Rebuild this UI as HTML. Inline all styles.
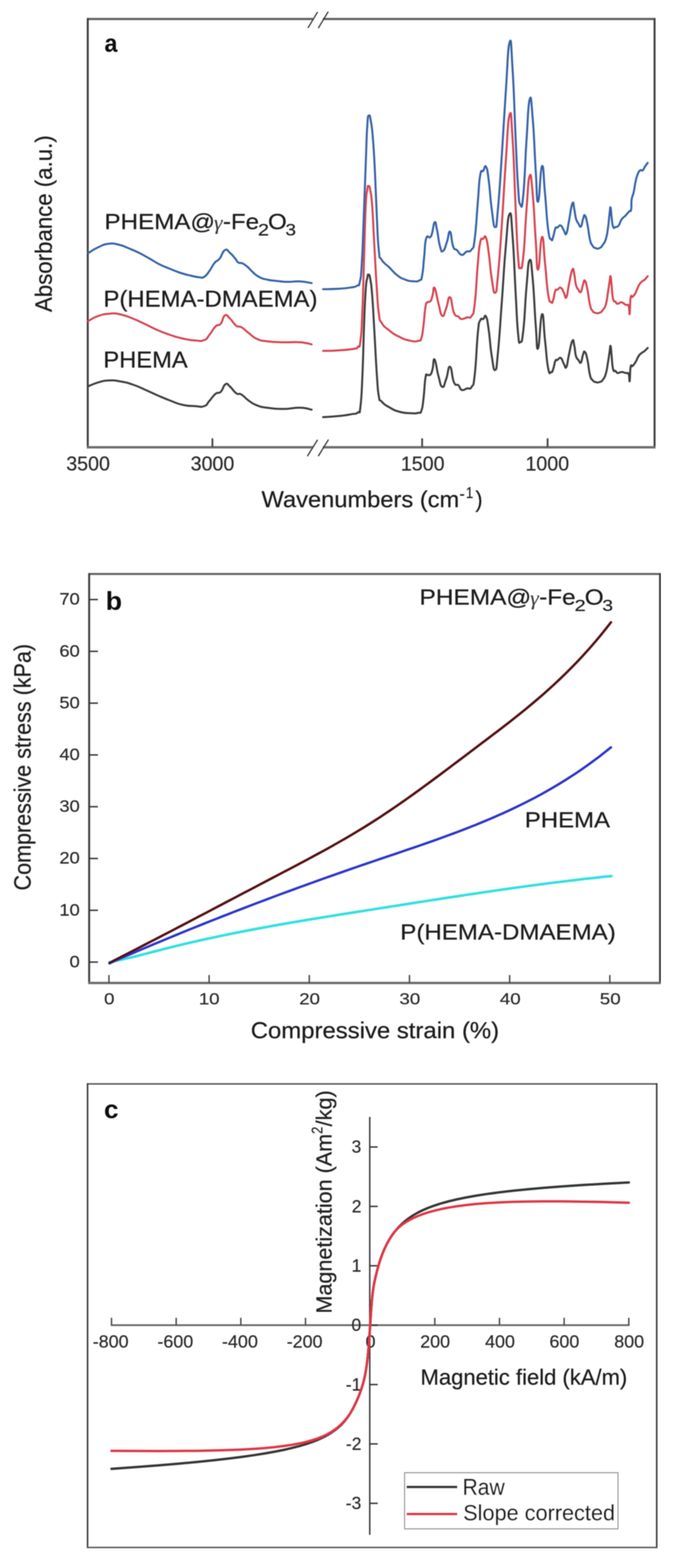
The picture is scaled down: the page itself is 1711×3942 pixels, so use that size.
<!DOCTYPE html>
<html><head><meta charset="utf-8"><title>Figure</title>
<style>
html,body{margin:0;padding:0;background:#fff;}
body{width:1711px;height:3942px;overflow:hidden;}
svg{display:block;}
text{font-family:'Liberation Sans', Arial, sans-serif;}
</style></head><body>
<svg width="1711" height="3942" viewBox="0 0 1711 3942">
<defs><filter id="bl" x="0" y="0" width="1" height="1"><feGaussianBlur stdDeviation="0.8"/></filter></defs>
<rect x="0" y="0" width="1711" height="3942" fill="#fff"/>
<g filter="url(#bl)">
<line x1="218.00" y1="47.80" x2="786.00" y2="47.80" stroke="#5e5e5e" stroke-width="5.5"/>
<line x1="811.00" y1="47.80" x2="1647.00" y2="47.80" stroke="#5e5e5e" stroke-width="5.5"/>
<line x1="220.50" y1="45.50" x2="220.50" y2="1127.00" stroke="#404040" stroke-width="5"/>
<line x1="1644.60" y1="45.50" x2="1644.60" y2="1127.00" stroke="#404040" stroke-width="5"/>
<line x1="218.00" y1="1124.60" x2="786.00" y2="1124.60" stroke="#6c6c6c" stroke-width="6"/>
<line x1="811.00" y1="1124.60" x2="1647.00" y2="1124.60" stroke="#6c6c6c" stroke-width="6"/>
<line x1="773.80" y1="70.30" x2="798.00" y2="30.00" stroke="#333" stroke-width="3"/>
<line x1="799.60" y1="70.80" x2="824.80" y2="29.00" stroke="#333" stroke-width="3"/>
<line x1="772.20" y1="1146.90" x2="798.00" y2="1105.60" stroke="#333" stroke-width="3"/>
<line x1="799.60" y1="1146.90" x2="825.30" y2="1105.00" stroke="#333" stroke-width="3"/>
<line x1="533.70" y1="1124.00" x2="533.70" y2="1102.00" stroke="#444" stroke-width="4.5"/>
<line x1="1060.60" y1="1124.00" x2="1060.60" y2="1102.00" stroke="#444" stroke-width="4.5"/>
<line x1="1375.80" y1="1124.00" x2="1375.80" y2="1102.00" stroke="#444" stroke-width="4.5"/>
<text transform="translate(166.44,1183.31) scale(0.49296,0.49296)" font-size="100" fill="#2a2a2a" stroke="#2a2a2a" stroke-width="1.0">3500</text>
<text transform="translate(479.04,1183.31) scale(0.49296,0.49296)" font-size="100" fill="#2a2a2a" stroke="#2a2a2a" stroke-width="1.0">3000</text>
<text transform="translate(1007.17,1183.31) scale(0.49296,0.49296)" font-size="100" fill="#2a2a2a" stroke="#2a2a2a" stroke-width="1.0">1500</text>
<text transform="translate(1320.17,1183.31) scale(0.49296,0.49296)" font-size="100" fill="#2a2a2a" stroke="#2a2a2a" stroke-width="1.0">1000</text>
<path d="M222.0,971.0 C228.4,968.5 232.7,965.6 246.0,961.7 C259.3,957.8 256.8,957.2 272.0,956.5 C287.2,955.8 286.5,956.2 303.0,959.0 C319.5,961.8 317.5,961.4 334.0,967.0 C350.5,972.6 348.5,972.8 365.0,980.0 C381.5,987.2 379.3,986.8 396.0,994.0 C412.7,1001.2 410.8,1000.7 427.5,1007.0 C444.2,1013.3 441.9,1014.0 458.6,1017.7 C475.3,1021.4 475.5,1020.1 490.0,1021.0 C504.5,1021.9 503.4,1024.5 513.0,1021.0 C522.6,1017.5 518.4,1016.3 526.0,1008.0 C533.6,999.7 534.0,996.1 541.6,990.0 C549.2,983.9 548.0,991.4 554.6,985.0 C561.2,978.6 560.3,969.5 566.5,966.0 C572.7,962.5 570.8,965.9 578.0,972.0 C585.2,978.1 585.9,983.4 593.5,988.7 C601.1,994.0 598.2,986.9 606.5,991.8 C614.8,996.7 614.3,999.8 624.6,1007.0 C634.9,1014.2 632.6,1014.0 645.0,1018.8 C657.4,1023.6 652.9,1022.5 671.0,1025.0 C689.1,1027.5 690.9,1028.0 713.0,1028.0 C735.1,1028.0 735.3,1024.5 754.0,1025.0 C772.7,1025.5 775.3,1028.7 783.0,1030.0" fill="none" stroke="#3e3e3e" stroke-width="5" stroke-linejoin="round" stroke-linecap="round"/>
<path d="M222.0,807.0 C228.4,803.7 231.3,799.7 246.0,794.7 C260.7,789.7 261.8,789.5 277.0,788.4 C292.2,787.3 287.8,787.1 303.0,790.5 C318.2,793.9 317.5,794.5 334.0,801.0 C350.5,807.5 348.5,807.3 365.0,815.0 C381.5,822.7 379.3,822.8 396.0,830.0 C412.7,837.2 410.8,836.4 427.5,842.0 C444.2,847.6 441.9,847.3 458.6,851.0 C475.3,854.7 475.5,854.9 490.0,856.0 C504.5,857.1 503.4,858.7 513.0,855.0 C522.6,851.3 518.4,851.2 526.0,842.0 C533.6,832.8 534.0,828.1 541.6,820.6 C549.2,813.1 548.4,821.4 554.6,814.0 C560.8,806.6 558.8,796.5 565.0,793.0 C571.2,789.5 570.4,794.1 578.0,801.0 C585.6,807.9 585.9,813.2 593.5,819.0 C601.1,824.8 598.2,817.9 606.5,822.7 C614.8,827.5 614.3,829.3 624.6,837.0 C634.9,844.7 632.6,846.1 645.0,851.7 C657.4,857.3 652.9,855.7 671.0,858.0 C689.1,860.3 690.9,859.8 713.0,860.5 C735.1,861.2 735.3,859.1 754.0,860.5 C772.7,861.9 775.3,864.3 783.0,865.7" fill="none" stroke="#d84350" stroke-width="5" stroke-linejoin="round" stroke-linecap="round"/>
<path d="M222.0,636.0 C228.4,632.3 232.7,628.1 246.0,622.0 C259.3,615.9 258.1,614.9 272.0,613.0 C285.9,611.1 284.1,611.9 298.0,615.0 C311.9,618.1 310.1,618.9 324.0,624.5 C337.9,630.1 336.2,629.2 350.0,636.0 C363.8,642.8 361.8,642.3 375.6,650.0 C389.4,657.7 387.8,658.1 401.6,665.0 C415.4,671.9 413.7,670.4 427.5,676.0 C441.3,681.6 439.7,681.5 453.5,686.0 C467.3,690.5 467.0,690.1 479.4,693.0 C491.8,695.9 491.0,696.2 500.0,697.0 C509.0,697.8 506.1,700.1 513.0,696.0 C519.9,691.9 519.1,690.9 526.0,681.6 C532.9,672.3 532.1,669.4 539.0,661.0 C545.9,652.6 545.1,658.6 552.0,650.0 C558.9,641.4 558.1,632.4 565.0,628.7 C571.9,625.0 571.1,630.3 578.0,636.0 C584.9,641.7 585.5,643.6 591.0,650.0 C596.5,656.4 593.9,656.8 598.7,660.0 C603.5,663.2 602.8,659.1 609.0,662.0 C615.2,664.9 615.1,665.1 622.0,671.0 C628.9,676.9 627.4,677.3 635.0,684.0 C642.6,690.7 641.0,690.9 650.6,696.0 C660.2,701.1 658.6,700.2 671.0,703.0 C683.4,705.8 683.1,705.0 697.0,706.5 C710.9,708.0 707.8,708.2 723.0,708.5 C738.2,708.8 738.0,706.6 754.0,707.5 C770.0,708.4 775.3,710.6 783.0,711.7" fill="none" stroke="#3462a8" stroke-width="5" stroke-linejoin="round" stroke-linecap="round"/>
<path d="M811.6,1048.7 C821.7,1048.0 830.6,1047.9 849.5,1046.0 C868.4,1044.1 869.3,1043.8 882.5,1041.4 C895.7,1039.0 892.8,1042.1 899.0,1037.0 C905.2,1031.9 902.5,1047.4 905.6,1022.3 C908.7,997.2 908.1,999.3 910.6,943.0 C913.1,886.7 912.7,868.2 914.9,811.0 C917.1,753.8 916.7,758.4 918.8,728.5 C920.9,698.6 920.9,708.9 922.8,698.8 C924.7,688.7 924.0,689.7 926.0,690.6 C928.0,691.5 927.9,687.5 930.4,702.0 C932.9,716.5 932.7,711.5 935.3,745.0 C937.9,778.5 937.2,774.8 940.3,827.6 C943.4,880.4 943.8,898.1 946.9,943.0 C950.0,987.9 948.7,978.3 951.8,995.9 C954.9,1013.5 951.4,1001.5 958.4,1009.0 C965.4,1016.5 965.9,1016.9 978.2,1024.0 C990.5,1031.1 990.5,1031.6 1004.6,1035.5 C1018.7,1039.4 1018.7,1038.1 1031.0,1038.8 C1043.3,1039.5 1043.3,1039.8 1050.8,1038.0 C1058.3,1036.2 1055.5,1041.5 1059.0,1032.0 C1062.5,1022.5 1061.3,1024.4 1064.0,1002.5 C1066.7,980.6 1066.3,965.6 1069.0,949.7 C1071.7,933.8 1070.5,945.2 1074.0,943.0 C1077.5,940.8 1078.5,945.8 1082.0,941.4 C1085.5,937.0 1084.3,936.6 1087.0,926.6 C1089.7,916.6 1088.1,899.0 1092.0,904.0 C1095.9,909.0 1096.5,927.1 1101.6,945.4 C1106.7,963.7 1106.1,970.6 1111.3,972.6 C1116.5,974.6 1115.8,966.5 1121.0,953.0 C1126.2,939.5 1125.5,919.9 1130.7,922.0 C1135.9,924.1 1134.8,948.5 1140.5,961.0 C1146.2,973.5 1146.8,963.6 1152.0,968.8 C1157.2,974.0 1154.2,978.3 1159.9,980.4 C1165.6,982.5 1166.7,978.6 1173.4,976.5 C1180.1,974.4 1179.8,981.9 1185.0,972.6 C1190.2,963.3 1188.6,977.8 1192.8,941.6 C1197.0,905.4 1197.0,873.0 1200.6,836.8 C1204.2,800.6 1202.8,815.0 1206.4,805.7 C1210.0,796.4 1210.3,804.5 1214.2,801.9 C1218.1,799.3 1217.6,788.8 1221.2,796.0 C1224.8,803.2 1224.0,802.6 1227.8,829.0 C1231.6,855.4 1231.2,868.1 1235.5,895.0 C1239.8,921.9 1239.9,932.1 1244.0,930.0 C1248.1,927.9 1246.5,932.8 1251.0,887.2 C1255.5,841.6 1255.6,829.4 1260.8,759.0 C1266.0,688.6 1265.3,682.2 1270.5,623.3 C1275.7,564.4 1275.5,545.3 1280.2,538.0 C1284.9,530.7 1283.9,542.2 1288.0,596.0 C1292.1,649.8 1292.1,675.6 1295.7,739.8 C1299.3,804.0 1298.4,804.7 1301.5,836.8 C1304.6,868.9 1303.7,862.1 1307.3,860.0 C1310.9,857.9 1310.8,866.2 1315.0,829.0 C1319.2,791.8 1318.7,767.0 1322.9,720.4 C1327.1,673.8 1326.5,659.6 1330.6,654.4 C1334.7,649.2 1334.3,657.5 1338.4,701.0 C1342.5,744.5 1342.4,770.8 1346.0,817.4 C1349.6,864.0 1347.8,882.9 1352.0,875.6 C1356.2,868.3 1357.1,795.4 1361.7,790.2 C1366.3,785.0 1365.3,819.8 1369.4,856.0 C1373.5,892.2 1373.0,904.9 1377.2,926.0 C1381.4,947.1 1381.6,934.8 1385.0,935.3 C1388.4,935.8 1387.3,935.1 1390.0,927.7 C1392.7,920.3 1392.5,913.6 1395.2,907.5 C1397.9,901.4 1396.6,907.0 1400.3,905.0 C1404.0,903.0 1404.6,897.3 1409.0,900.0 C1413.4,902.7 1413.0,909.0 1416.7,915.0 C1420.4,921.0 1419.6,928.6 1423.0,922.6 C1426.4,916.6 1425.3,909.9 1429.3,892.4 C1433.3,874.9 1434.3,863.1 1438.0,857.0 C1441.7,850.9 1440.6,859.6 1443.0,869.7 C1445.4,879.8 1444.3,885.5 1447.0,894.9 C1449.7,904.3 1449.8,900.6 1453.2,905.0 C1456.6,909.4 1456.6,914.7 1459.6,911.3 C1462.6,907.9 1461.9,899.5 1464.6,892.4 C1467.3,885.3 1466.6,881.4 1469.6,884.8 C1472.6,888.2 1472.6,889.5 1476.0,905.0 C1479.4,920.5 1478.9,929.4 1482.3,942.8 C1485.7,956.2 1484.9,950.7 1488.6,955.4 C1492.3,960.1 1491.3,959.1 1496.0,960.5 C1500.7,961.9 1501.1,962.2 1506.2,960.5 C1511.3,958.8 1510.6,960.3 1515.0,954.2 C1519.4,948.1 1519.2,949.6 1522.6,937.8 C1526.0,926.0 1525.3,924.1 1527.7,910.0 C1530.1,895.9 1529.8,895.5 1531.5,884.8 C1533.2,874.1 1532.7,867.7 1534.0,869.7 C1535.3,871.7 1534.8,876.9 1536.5,892.4 C1538.2,907.9 1537.6,917.0 1540.3,927.7 C1543.0,938.4 1543.6,930.0 1546.6,932.7 C1549.6,935.4 1547.6,937.1 1551.6,937.8 C1555.6,938.5 1556.3,935.3 1561.7,935.3 C1567.1,935.3 1567.1,936.5 1571.8,937.8 C1576.5,939.1 1576.7,934.9 1579.4,940.3 C1582.1,945.7 1580.7,962.7 1582.0,958.0 C1583.3,953.3 1582.4,932.7 1584.4,922.6 C1586.4,912.5 1586.1,923.4 1589.5,920.0 C1592.9,916.6 1593.0,916.7 1597.0,910.0 C1601.0,903.3 1600.5,901.1 1604.6,895.0 C1608.7,888.9 1608.2,890.7 1612.2,887.3 C1616.2,883.9 1615.7,885.7 1619.7,882.3 C1623.7,878.9 1625.3,876.7 1627.3,874.7" fill="none" stroke="#3e3e3e" stroke-width="5" stroke-linejoin="round" stroke-linecap="round"/>
<path d="M811.6,882.0 C821.7,881.7 828.9,882.3 849.5,881.0 C870.1,879.7 875.8,879.4 889.0,877.0 C902.2,874.6 894.6,877.3 899.0,872.0 C903.4,866.7 902.5,882.1 905.6,857.0 C908.7,831.9 908.1,835.9 910.6,778.0 C913.1,720.1 912.7,708.8 914.9,640.0 C917.1,571.2 916.8,563.2 918.8,520.0 C920.8,476.8 920.6,491.9 922.5,478.0 C924.4,464.1 923.9,467.5 926.0,467.8 C928.1,468.1 927.9,464.9 930.4,479.0 C932.9,493.1 932.7,484.9 935.3,520.6 C937.9,556.3 937.2,557.6 940.3,613.0 C943.4,668.4 943.8,681.8 946.9,728.5 C950.0,775.2 948.7,766.0 951.8,788.0 C954.9,810.0 951.4,799.6 958.4,811.0 C965.4,822.4 965.9,821.2 978.2,830.9 C990.5,840.6 990.5,840.5 1004.6,847.4 C1018.7,854.3 1018.7,854.0 1031.0,856.6 C1043.3,859.2 1043.3,859.0 1050.8,857.0 C1058.3,855.0 1055.5,859.5 1059.0,849.0 C1062.5,838.5 1061.3,838.4 1064.0,817.7 C1066.7,797.0 1066.3,786.9 1069.0,771.5 C1071.7,756.1 1070.5,764.0 1074.0,760.0 C1077.5,756.0 1078.5,761.5 1082.0,756.6 C1085.5,751.7 1084.3,750.4 1087.0,741.7 C1089.7,733.0 1088.1,718.3 1092.0,724.0 C1095.9,729.7 1096.5,744.3 1101.6,763.0 C1106.7,781.7 1106.1,790.9 1111.3,794.0 C1116.5,797.1 1115.8,787.1 1121.0,774.7 C1126.2,762.3 1125.5,744.4 1130.7,747.5 C1135.9,750.6 1134.8,773.4 1140.5,786.3 C1146.2,799.2 1146.8,791.8 1152.0,796.0 C1157.2,800.2 1154.2,801.5 1159.9,802.0 C1165.6,802.5 1166.7,800.1 1173.4,798.0 C1180.1,795.9 1179.8,803.3 1185.0,794.0 C1190.2,784.7 1188.6,798.2 1192.8,763.0 C1197.0,727.8 1197.0,702.9 1200.6,662.0 C1204.2,621.1 1202.8,626.3 1206.4,609.8 C1210.0,593.3 1210.3,603.1 1214.2,600.0 C1218.1,596.9 1217.6,588.7 1221.2,598.0 C1224.8,607.3 1224.0,607.5 1227.8,635.0 C1231.6,662.5 1231.2,674.1 1235.5,701.0 C1239.8,727.9 1239.9,738.0 1244.0,735.9 C1248.1,733.8 1246.5,738.6 1251.0,693.0 C1255.5,647.4 1255.6,640.5 1260.8,565.0 C1266.0,489.5 1265.3,483.4 1270.5,410.0 C1275.7,336.6 1275.5,305.1 1280.2,289.6 C1284.9,274.1 1283.9,288.6 1288.0,351.7 C1292.1,414.8 1292.1,448.7 1295.7,526.3 C1299.3,603.9 1298.4,603.4 1301.5,642.7 C1304.6,682.0 1303.7,673.8 1307.3,673.8 C1310.9,673.8 1310.8,682.0 1315.0,642.7 C1319.2,603.4 1318.7,579.6 1322.9,526.3 C1327.1,473.0 1326.5,453.2 1330.6,442.9 C1334.7,432.6 1334.3,444.5 1338.4,487.5 C1342.5,530.5 1342.4,553.3 1346.0,604.0 C1349.6,654.7 1347.8,679.8 1352.0,677.7 C1356.2,675.6 1357.1,600.2 1361.7,596.0 C1366.3,591.8 1365.3,623.7 1369.4,662.0 C1373.5,700.3 1373.0,713.7 1377.2,739.8 C1381.4,765.9 1381.6,756.3 1385.0,760.0 C1388.4,763.7 1387.3,761.3 1390.0,753.6 C1392.7,745.9 1392.5,737.7 1395.2,731.0 C1397.9,724.3 1396.6,730.4 1400.3,728.4 C1404.0,726.4 1404.6,721.4 1409.0,723.4 C1413.4,725.4 1413.0,729.6 1416.7,736.0 C1420.4,742.4 1419.6,752.7 1423.0,747.3 C1426.4,741.9 1425.3,734.3 1429.3,715.8 C1433.3,697.3 1434.3,684.7 1438.0,678.0 C1441.7,671.3 1440.6,680.5 1443.0,690.6 C1445.4,700.7 1444.3,705.7 1447.0,715.8 C1449.7,725.9 1449.8,723.7 1453.2,728.4 C1456.6,733.1 1456.6,736.9 1459.6,733.5 C1462.6,730.1 1461.9,723.2 1464.6,715.8 C1467.3,708.4 1466.6,702.3 1469.6,705.7 C1472.6,709.1 1472.6,712.3 1476.0,728.4 C1479.4,744.5 1478.9,752.1 1482.3,766.2 C1485.7,780.3 1484.9,776.0 1488.6,781.4 C1492.3,786.8 1491.3,785.1 1496.0,786.4 C1500.7,787.7 1501.1,788.4 1506.2,786.4 C1511.3,784.4 1510.6,785.0 1515.0,778.9 C1519.4,772.8 1519.2,775.8 1522.6,763.7 C1526.0,751.6 1525.3,748.3 1527.7,733.5 C1530.1,718.7 1529.8,718.7 1531.5,708.2 C1533.2,697.7 1532.7,692.3 1534.0,694.3 C1535.3,696.3 1534.8,700.7 1536.5,715.8 C1538.2,730.9 1537.6,739.7 1540.3,751.1 C1543.0,762.5 1543.6,755.3 1546.6,758.7 C1549.6,762.1 1547.6,763.4 1551.6,763.7 C1555.6,764.0 1556.3,759.3 1561.7,760.0 C1567.1,760.7 1567.1,763.9 1571.8,766.2 C1576.5,768.5 1576.7,762.7 1579.4,768.8 C1582.1,774.9 1580.7,794.4 1582.0,789.0 C1583.3,783.6 1582.4,760.1 1584.4,748.6 C1586.4,737.1 1586.1,749.4 1589.5,746.0 C1592.9,742.6 1593.0,743.4 1597.0,736.0 C1601.0,728.6 1600.5,725.7 1604.6,718.3 C1608.7,710.9 1608.2,712.2 1612.2,708.2 C1616.2,704.2 1615.7,706.9 1619.7,703.2 C1623.7,699.5 1625.3,696.7 1627.3,694.3" fill="none" stroke="#d84350" stroke-width="5" stroke-linejoin="round" stroke-linecap="round"/>
<path d="M811.6,727.0 C821.7,726.7 830.6,727.2 849.5,726.0 C868.4,724.8 869.7,724.7 882.5,722.6 C895.3,720.5 891.7,721.7 897.4,718.0 C903.1,714.3 900.9,723.5 904.0,708.7 C907.1,693.9 906.4,705.6 909.0,662.5 C911.6,619.4 911.3,613.0 913.9,547.0 C916.5,481.0 916.4,476.6 918.8,415.0 C921.2,353.4 920.6,349.1 922.8,316.0 C925.0,282.9 924.5,293.7 927.0,291.0 C929.5,288.3 929.3,290.5 932.0,306.0 C934.7,321.5 934.3,315.5 937.0,349.0 C939.7,382.5 939.4,378.7 942.0,431.5 C944.6,484.3 944.3,494.2 946.9,547.0 C949.5,599.8 948.7,601.3 951.8,629.5 C954.9,657.7 951.4,641.2 958.4,652.6 C965.4,664.0 967.6,661.9 978.2,672.4 C988.8,682.9 987.4,683.9 998.0,692.0 C1008.6,700.1 1007.2,698.8 1017.8,702.8 C1028.4,706.8 1027.9,706.5 1037.6,707.0 C1047.3,707.5 1047.8,708.8 1054.0,704.8 C1060.2,700.8 1057.6,707.7 1060.7,692.0 C1063.8,676.3 1063.1,670.5 1065.7,646.0 C1068.3,621.5 1066.7,613.2 1070.6,600.0 C1074.5,586.8 1076.5,600.1 1080.5,596.5 C1084.5,592.9 1082.4,596.6 1085.5,586.6 C1088.6,576.6 1088.7,561.6 1092.0,559.0 C1095.3,556.4 1094.2,560.7 1097.8,576.8 C1101.4,592.9 1101.4,605.0 1105.5,619.5 C1109.6,634.0 1108.6,634.1 1113.3,631.0 C1118.0,627.9 1118.4,620.7 1123.0,607.8 C1127.6,594.9 1126.6,579.5 1130.7,582.6 C1134.8,585.7 1133.8,607.1 1138.5,619.5 C1143.2,631.9 1142.5,623.3 1148.2,629.0 C1153.9,634.7 1153.7,639.7 1159.9,640.8 C1166.1,641.9 1164.8,636.6 1171.5,633.0 C1178.2,629.4 1179.3,636.0 1185.0,627.2 C1190.7,618.4 1188.6,632.1 1192.8,600.0 C1197.0,567.9 1197.0,549.4 1200.6,507.0 C1204.2,464.6 1202.8,461.7 1206.4,441.0 C1210.0,420.3 1210.3,435.0 1214.2,429.3 C1218.1,423.6 1217.6,413.4 1221.2,419.6 C1224.8,425.8 1224.0,424.1 1227.8,452.6 C1231.6,481.1 1231.2,494.7 1235.5,526.3 C1239.8,557.9 1239.9,571.0 1244.0,571.0 C1248.1,571.0 1246.5,574.4 1251.0,526.3 C1255.5,478.2 1255.6,468.2 1260.8,390.5 C1266.0,312.8 1265.3,310.6 1270.5,235.0 C1275.7,159.4 1275.5,122.5 1280.2,107.0 C1284.9,91.5 1283.9,111.7 1288.0,177.0 C1292.1,242.3 1292.1,274.1 1295.7,351.7 C1299.3,429.3 1298.4,424.5 1301.5,468.0 C1304.6,511.5 1303.7,509.5 1307.3,514.7 C1310.9,519.9 1310.8,531.0 1315.0,487.5 C1319.2,444.0 1318.7,414.8 1322.9,351.7 C1327.1,288.6 1326.5,265.3 1330.6,250.8 C1334.7,236.3 1334.3,249.7 1338.4,297.3 C1342.5,344.9 1342.4,373.4 1346.0,429.3 C1349.6,485.2 1347.8,510.1 1352.0,507.0 C1356.2,503.9 1357.1,422.8 1361.7,417.6 C1366.3,412.4 1365.3,445.0 1369.4,487.5 C1373.5,530.0 1373.0,546.2 1377.2,576.8 C1381.4,607.4 1381.6,597.5 1385.0,602.3 C1388.4,607.1 1387.3,602.1 1390.0,594.7 C1392.7,587.3 1392.5,580.6 1395.2,574.5 C1397.9,568.4 1396.6,574.0 1400.3,572.0 C1404.0,570.0 1404.6,565.0 1409.0,567.0 C1413.4,569.0 1413.0,574.3 1416.7,579.6 C1420.4,584.9 1419.6,593.1 1423.0,587.0 C1426.4,580.9 1425.3,577.0 1429.3,556.9 C1433.3,536.8 1434.3,519.6 1438.0,511.5 C1441.7,503.4 1440.6,516.5 1443.0,526.6 C1445.4,536.7 1444.3,539.9 1447.0,549.3 C1449.7,558.7 1449.8,556.6 1453.2,562.0 C1456.6,567.4 1456.6,572.2 1459.6,569.5 C1462.6,566.8 1461.9,559.2 1464.6,551.8 C1467.3,544.4 1466.6,538.3 1469.6,541.7 C1472.6,545.1 1472.6,548.2 1476.0,564.4 C1479.4,580.6 1478.9,588.2 1482.3,602.3 C1485.7,616.4 1484.9,611.7 1488.6,617.4 C1492.3,623.1 1491.3,622.0 1496.0,623.7 C1500.7,625.4 1501.1,626.0 1506.2,623.7 C1511.3,621.4 1510.6,621.3 1515.0,614.9 C1519.4,608.5 1519.2,611.1 1522.6,599.7 C1526.0,588.3 1525.3,588.8 1527.7,572.0 C1530.1,555.2 1529.8,550.2 1531.5,536.7 C1533.2,523.2 1532.7,519.5 1534.0,521.5 C1535.3,523.5 1534.8,531.4 1536.5,544.2 C1538.2,557.0 1537.6,562.4 1540.3,569.5 C1543.0,576.6 1542.9,571.4 1546.6,570.7 C1550.3,570.0 1550.2,572.0 1554.2,567.0 C1558.2,562.0 1557.0,558.5 1561.7,551.8 C1566.4,545.1 1566.8,547.1 1571.8,541.7 C1576.8,536.3 1576.9,535.6 1580.6,531.6 C1584.3,527.6 1584.0,534.7 1585.7,526.6 C1587.4,518.5 1585.3,512.8 1587.0,501.4 C1588.7,490.0 1589.3,495.8 1592.0,483.7 C1594.7,471.6 1594.3,468.1 1597.0,456.0 C1599.7,443.9 1599.0,445.7 1602.0,438.3 C1605.0,430.9 1605.0,430.9 1608.4,428.2 C1611.8,425.5 1611.3,430.9 1614.7,428.2 C1618.1,425.5 1617.6,423.0 1621.0,418.0 C1624.4,413.0 1625.6,411.6 1627.3,409.3" fill="none" stroke="#3462a8" stroke-width="5" stroke-linejoin="round" stroke-linecap="round"/>
<text transform="translate(262.54,576.30) scale(0.60772,0.56400)" font-size="100" fill="#1e1e1e" stroke="#1e1e1e" stroke-width="1.0">PHEMA@</text>
<text transform="translate(537.61,577.00) scale(0.54430,0.53580)" font-size="100" fill="#3a3a3a" stroke="#3a3a3a" stroke-width="0.3" font-style="italic" style="font-family:'Liberation Serif', serif">γ</text>
<text transform="translate(560.18,576.30) scale(0.60355,0.56400)" font-size="100" fill="#1e1e1e" stroke="#1e1e1e" stroke-width="1.0">-Fe</text>
<text transform="translate(648.09,592.40) scale(0.50110,0.42018)" font-size="100" fill="#1e1e1e" stroke="#1e1e1e" stroke-width="1.0">2</text>
<text transform="translate(673.26,576.30) scale(0.60876,0.56400)" font-size="100" fill="#1e1e1e" stroke="#1e1e1e" stroke-width="1.0">O</text>
<text transform="translate(717.08,592.40) scale(0.48000,0.42018)" font-size="100" fill="#1e1e1e" stroke="#1e1e1e" stroke-width="1.0">3</text>
<text transform="translate(259.99,771.00) scale(0.60136,0.56500)" font-size="100" fill="#1e1e1e" stroke="#1e1e1e" stroke-width="1.0">P(HEMA-DMAEMA)</text>
<text transform="translate(259.74,923.70) scale(0.59540,0.57700)" font-size="100" fill="#1e1e1e" stroke="#1e1e1e" stroke-width="1.0">PHEMA</text>
<text transform="translate(262.44,130.00) scale(0.58505,0.63000)" font-size="100" font-weight="bold" fill="#111" stroke="#111" stroke-width="0">a</text>
<text transform="translate(657.10,1275.00) scale(0.59457,0.57200)" font-size="100" fill="#1e1e1e" stroke="#1e1e1e" stroke-width="1.0">Wavenumbers (cm</text>
<text transform="translate(1154.16,1255.00) scale(0.40816,0.40000)" font-size="100" fill="#1e1e1e" stroke="#1e1e1e" stroke-width="1.0">-</text>
<text transform="translate(1170.48,1252.00) scale(0.33563,0.39000)" font-size="100" fill="#1e1e1e" stroke="#1e1e1e" stroke-width="1.0">1</text>
<text transform="translate(1194.43,1275.00) scale(0.53962,0.57200)" font-size="100" fill="#1e1e1e" stroke="#1e1e1e" stroke-width="1.0">)</text>
<text transform="translate(129.60,784.40) rotate(-90) scale(0.55904,0.60000)" font-size="100" fill="#1e1e1e" stroke="#1e1e1e" stroke-width="1.0">Absorbance (a.u.)</text>
<line x1="222.00" y1="1443.00" x2="1660.30" y2="1443.00" stroke="#5e5e5e" stroke-width="5"/>
<line x1="224.00" y1="1441.00" x2="224.00" y2="2473.20" stroke="#404040" stroke-width="5"/>
<line x1="1658.30" y1="1441.00" x2="1658.30" y2="2473.20" stroke="#404040" stroke-width="5"/>
<line x1="222.00" y1="2471.20" x2="1660.30" y2="2471.20" stroke="#6c6c6c" stroke-width="6"/>
<line x1="224.00" y1="2418.70" x2="246.00" y2="2418.70" stroke="#333" stroke-width="3.5"/>
<text transform="translate(174.78,2431.77) scale(0.46000,0.42958)" font-size="100" fill="#2a2a2a" stroke="#2a2a2a" stroke-width="1.0">0</text>
<line x1="224.00" y1="2288.50" x2="246.00" y2="2288.50" stroke="#333" stroke-width="3.5"/>
<text transform="translate(149.25,2301.57) scale(0.46000,0.42958)" font-size="100" fill="#2a2a2a" stroke="#2a2a2a" stroke-width="1.0">10</text>
<line x1="224.00" y1="2158.30" x2="246.00" y2="2158.30" stroke="#333" stroke-width="3.5"/>
<text transform="translate(149.25,2171.37) scale(0.46000,0.42958)" font-size="100" fill="#2a2a2a" stroke="#2a2a2a" stroke-width="1.0">20</text>
<line x1="224.00" y1="2028.10" x2="246.00" y2="2028.10" stroke="#333" stroke-width="3.5"/>
<text transform="translate(149.25,2041.17) scale(0.46000,0.42958)" font-size="100" fill="#2a2a2a" stroke="#2a2a2a" stroke-width="1.0">30</text>
<line x1="224.00" y1="1897.90" x2="246.00" y2="1897.90" stroke="#333" stroke-width="3.5"/>
<text transform="translate(149.25,1910.97) scale(0.46000,0.42958)" font-size="100" fill="#2a2a2a" stroke="#2a2a2a" stroke-width="1.0">40</text>
<line x1="224.00" y1="1767.70" x2="246.00" y2="1767.70" stroke="#333" stroke-width="3.5"/>
<text transform="translate(149.25,1780.77) scale(0.46000,0.42958)" font-size="100" fill="#2a2a2a" stroke="#2a2a2a" stroke-width="1.0">50</text>
<line x1="224.00" y1="1637.50" x2="246.00" y2="1637.50" stroke="#333" stroke-width="3.5"/>
<text transform="translate(149.25,1650.57) scale(0.46000,0.42958)" font-size="100" fill="#2a2a2a" stroke="#2a2a2a" stroke-width="1.0">60</text>
<line x1="224.00" y1="1507.30" x2="246.00" y2="1507.30" stroke="#333" stroke-width="3.5"/>
<text transform="translate(149.25,1520.37) scale(0.46000,0.42958)" font-size="100" fill="#2a2a2a" stroke="#2a2a2a" stroke-width="1.0">70</text>
<line x1="273.70" y1="2471.20" x2="273.70" y2="2451.20" stroke="#444" stroke-width="3.5"/>
<text transform="translate(261.54,2525.28) scale(0.47000,0.41549)" font-size="100" fill="#2a2a2a" stroke="#2a2a2a" stroke-width="1.0">0</text>
<line x1="525.40" y1="2471.20" x2="525.40" y2="2451.20" stroke="#444" stroke-width="3.5"/>
<text transform="translate(499.38,2525.28) scale(0.47000,0.41549)" font-size="100" fill="#2a2a2a" stroke="#2a2a2a" stroke-width="1.0">10</text>
<line x1="777.10" y1="2471.20" x2="777.10" y2="2451.20" stroke="#444" stroke-width="3.5"/>
<text transform="translate(751.66,2525.28) scale(0.47000,0.41549)" font-size="100" fill="#2a2a2a" stroke="#2a2a2a" stroke-width="1.0">20</text>
<line x1="1028.80" y1="2471.20" x2="1028.80" y2="2451.20" stroke="#444" stroke-width="3.5"/>
<text transform="translate(1003.60,2525.28) scale(0.47000,0.41549)" font-size="100" fill="#2a2a2a" stroke="#2a2a2a" stroke-width="1.0">30</text>
<line x1="1280.50" y1="2471.20" x2="1280.50" y2="2451.20" stroke="#444" stroke-width="3.5"/>
<text transform="translate(1255.77,2525.28) scale(0.47000,0.41549)" font-size="100" fill="#2a2a2a" stroke="#2a2a2a" stroke-width="1.0">40</text>
<line x1="1532.20" y1="2471.20" x2="1532.20" y2="2451.20" stroke="#444" stroke-width="3.5"/>
<text transform="translate(1507.00,2525.28) scale(0.47000,0.41549)" font-size="100" fill="#2a2a2a" stroke="#2a2a2a" stroke-width="1.0">50</text>
<path d="M275.0,2418.9 C275.0,2418.9 289.2,2416.0 289.2,2416.0 C289.2,2416.0 303.3,2412.9 303.3,2412.9 C303.3,2412.9 317.5,2409.7 317.5,2409.7 C317.5,2409.7 331.7,2406.4 331.7,2406.4 C331.7,2406.4 345.8,2403.0 345.8,2403.0 C345.8,2403.0 360.0,2399.4 360.0,2399.4 C360.0,2399.4 374.2,2395.7 374.2,2395.7 C374.2,2395.7 388.3,2392.0 388.3,2392.0 C388.3,2392.0 402.5,2388.3 402.5,2388.3 C402.5,2388.3 416.7,2384.7 416.7,2384.7 C416.7,2384.7 430.9,2381.1 430.9,2381.1 C430.9,2381.1 445.0,2377.6 445.0,2377.6 C445.0,2377.6 459.2,2374.2 459.2,2374.2 C459.2,2374.2 473.4,2370.8 473.4,2370.8 C473.4,2370.8 487.5,2367.6 487.5,2367.6 C487.5,2367.6 501.7,2364.3 501.7,2364.3 C501.7,2364.3 515.9,2361.2 515.9,2361.2 C515.9,2361.2 530.0,2358.1 530.0,2358.1 C530.0,2358.1 544.2,2355.1 544.2,2355.1 C544.2,2355.1 558.4,2352.1 558.4,2352.1 C558.4,2352.1 572.5,2349.2 572.5,2349.2 C572.5,2349.2 586.7,2346.3 586.7,2346.3 C586.7,2346.3 600.9,2343.5 600.9,2343.5 C600.9,2343.5 615.0,2340.7 615.0,2340.7 C615.0,2340.7 629.2,2338.0 629.2,2338.0 C629.2,2338.0 643.4,2335.3 643.4,2335.3 C643.4,2335.3 657.6,2332.7 657.6,2332.7 C657.6,2332.7 671.7,2330.1 671.7,2330.1 C671.7,2330.1 685.9,2327.5 685.9,2327.5 C685.9,2327.5 700.1,2325.0 700.1,2325.0 C700.1,2325.0 714.2,2322.5 714.2,2322.5 C714.2,2322.5 728.4,2320.0 728.4,2320.0 C728.4,2320.0 742.6,2317.6 742.6,2317.6 C742.6,2317.6 756.7,2315.2 756.7,2315.2 C756.7,2315.2 770.9,2312.8 770.9,2312.8 C770.9,2312.8 785.1,2310.5 785.1,2310.5 C785.1,2310.5 799.2,2308.2 799.2,2308.2 C799.2,2308.2 813.4,2305.9 813.4,2305.9 C813.4,2305.9 827.6,2303.6 827.6,2303.6 C827.6,2303.6 841.7,2301.3 841.7,2301.3 C841.7,2301.3 855.9,2299.0 855.9,2299.0 C855.9,2299.0 870.1,2296.8 870.1,2296.8 C870.1,2296.8 884.2,2294.5 884.2,2294.5 C884.2,2294.5 898.4,2292.3 898.4,2292.3 C898.4,2292.3 912.6,2290.1 912.6,2290.1 C912.6,2290.1 926.8,2287.9 926.8,2287.9 C926.8,2287.9 940.9,2285.6 940.9,2285.6 C940.9,2285.6 955.1,2283.4 955.1,2283.4 C955.1,2283.4 969.3,2281.2 969.3,2281.2 C969.3,2281.2 983.4,2278.9 983.4,2278.9 C983.4,2278.9 997.6,2276.7 997.6,2276.7 C997.6,2276.7 1011.8,2274.5 1011.8,2274.5 C1011.8,2274.5 1025.9,2272.3 1025.9,2272.3 C1025.9,2272.3 1040.1,2270.0 1040.1,2270.0 C1040.1,2270.0 1054.3,2267.8 1054.3,2267.8 C1054.3,2267.8 1068.4,2265.6 1068.4,2265.6 C1068.4,2265.6 1082.6,2263.4 1082.6,2263.4 C1082.6,2263.4 1096.8,2261.2 1096.8,2261.2 C1096.8,2261.2 1110.9,2259.0 1110.9,2259.0 C1110.9,2259.0 1125.1,2256.8 1125.1,2256.8 C1125.1,2256.8 1139.3,2254.7 1139.3,2254.7 C1139.3,2254.7 1153.4,2252.5 1153.4,2252.5 C1153.4,2252.5 1167.6,2250.4 1167.6,2250.4 C1167.6,2250.4 1181.8,2248.3 1181.8,2248.3 C1181.8,2248.3 1196.0,2246.1 1196.0,2246.1 C1196.0,2246.1 1210.1,2244.0 1210.1,2244.0 C1210.1,2244.0 1224.3,2242.0 1224.3,2242.0 C1224.3,2242.0 1238.5,2239.9 1238.5,2239.9 C1238.5,2239.9 1252.6,2237.9 1252.6,2237.9 C1252.6,2237.9 1266.8,2235.8 1266.8,2235.8 C1266.8,2235.8 1281.0,2233.8 1281.0,2233.8 C1281.0,2233.8 1295.1,2231.8 1295.1,2231.8 C1295.1,2231.8 1309.3,2229.9 1309.3,2229.9 C1309.3,2229.9 1323.5,2227.9 1323.5,2227.9 C1323.5,2227.9 1337.6,2226.0 1337.6,2226.0 C1337.6,2226.0 1351.8,2224.1 1351.8,2224.1 C1351.8,2224.1 1366.0,2222.3 1366.0,2222.3 C1366.0,2222.3 1380.1,2220.4 1380.1,2220.4 C1380.1,2220.4 1394.3,2218.6 1394.3,2218.6 C1394.3,2218.6 1408.5,2216.9 1408.5,2216.9 C1408.5,2216.9 1422.7,2215.1 1422.7,2215.1 C1422.7,2215.1 1436.8,2213.4 1436.8,2213.4 C1436.8,2213.4 1451.0,2211.7 1451.0,2211.7 C1451.0,2211.7 1465.2,2210.1 1465.2,2210.1 C1465.2,2210.1 1479.3,2208.5 1479.3,2208.5 C1479.3,2208.5 1493.5,2206.9 1493.5,2206.9 C1493.5,2206.9 1507.7,2205.3 1507.7,2205.3 C1507.7,2205.3 1521.8,2203.8 1521.8,2203.8 C1521.8,2203.8 1536.0,2202.4 1536.0,2202.4" fill="none" stroke="#30e0e0" stroke-width="6.5" stroke-linejoin="round" stroke-linecap="round"/>
<path d="M275.0,2421.9 C275.0,2421.9 289.2,2415.6 289.2,2415.6 C289.2,2415.6 303.3,2409.5 303.3,2409.5 C303.3,2409.5 317.5,2403.3 317.5,2403.3 C317.5,2403.3 331.6,2397.2 331.6,2397.2 C331.6,2397.2 345.8,2391.1 345.8,2391.1 C345.8,2391.1 359.9,2385.1 359.9,2385.1 C359.9,2385.1 374.1,2379.1 374.1,2379.1 C374.1,2379.1 388.3,2373.1 388.3,2373.1 C388.3,2373.1 402.4,2367.2 402.4,2367.2 C402.4,2367.2 416.6,2361.3 416.6,2361.3 C416.6,2361.3 430.7,2355.4 430.7,2355.4 C430.7,2355.4 444.9,2349.6 444.9,2349.6 C444.9,2349.6 459.0,2343.8 459.0,2343.8 C459.0,2343.8 473.2,2338.0 473.2,2338.0 C473.2,2338.0 487.4,2332.3 487.4,2332.3 C487.4,2332.3 501.5,2326.6 501.5,2326.6 C501.5,2326.6 515.7,2320.9 515.7,2320.9 C515.7,2320.9 529.8,2315.3 529.8,2315.3 C529.8,2315.3 544.0,2309.7 544.0,2309.7 C544.0,2309.7 558.1,2304.1 558.1,2304.1 C558.1,2304.1 572.3,2298.6 572.3,2298.6 C572.3,2298.6 586.5,2293.0 586.5,2293.0 C586.5,2293.0 600.6,2287.6 600.6,2287.6 C600.6,2287.6 614.8,2282.1 614.8,2282.1 C614.8,2282.1 628.9,2276.7 628.9,2276.7 C628.9,2276.7 643.1,2271.3 643.1,2271.3 C643.1,2271.3 657.2,2266.0 657.2,2266.0 C657.2,2266.0 671.4,2260.6 671.4,2260.6 C671.4,2260.6 685.6,2255.3 685.6,2255.3 C685.6,2255.3 699.7,2250.0 699.7,2250.0 C699.7,2250.0 713.9,2244.8 713.9,2244.8 C713.9,2244.8 728.0,2239.6 728.0,2239.6 C728.0,2239.6 742.2,2234.4 742.2,2234.4 C742.2,2234.4 756.3,2229.2 756.3,2229.2 C756.3,2229.2 770.5,2224.1 770.5,2224.1 C770.5,2224.1 784.7,2219.0 784.7,2219.0 C784.7,2219.0 798.8,2213.9 798.8,2213.9 C798.8,2213.9 813.0,2208.8 813.0,2208.8 C813.0,2208.8 827.1,2203.8 827.1,2203.8 C827.1,2203.8 841.3,2198.8 841.3,2198.8 C841.3,2198.8 855.4,2193.8 855.4,2193.8 C855.4,2193.8 869.6,2188.9 869.6,2188.9 C869.6,2188.9 883.8,2183.9 883.8,2183.9 C883.8,2183.9 897.9,2179.0 897.9,2179.0 C897.9,2179.0 912.1,2174.2 912.1,2174.2 C912.1,2174.2 926.2,2169.3 926.2,2169.3 C926.2,2169.3 940.4,2164.5 940.4,2164.5 C940.4,2164.5 954.6,2159.6 954.6,2159.6 C954.6,2159.6 968.7,2154.9 968.7,2154.9 C968.7,2154.9 982.9,2150.1 982.9,2150.1 C982.9,2150.1 997.0,2145.3 997.0,2145.3 C997.0,2145.3 1011.2,2140.5 1011.2,2140.5 C1011.2,2140.5 1025.3,2135.7 1025.3,2135.7 C1025.3,2135.7 1039.5,2130.8 1039.5,2130.8 C1039.5,2130.8 1053.7,2126.0 1053.7,2126.0 C1053.7,2126.0 1067.8,2121.1 1067.8,2121.1 C1067.8,2121.1 1082.0,2116.1 1082.0,2116.1 C1082.0,2116.1 1096.1,2111.1 1096.1,2111.1 C1096.1,2111.1 1110.3,2106.0 1110.3,2106.0 C1110.3,2106.0 1124.4,2100.8 1124.4,2100.8 C1124.4,2100.8 1138.6,2095.6 1138.6,2095.6 C1138.6,2095.6 1152.8,2090.3 1152.8,2090.3 C1152.8,2090.3 1166.9,2084.9 1166.9,2084.9 C1166.9,2084.9 1181.1,2079.3 1181.1,2079.3 C1181.1,2079.3 1195.2,2073.7 1195.2,2073.7 C1195.2,2073.7 1209.4,2067.9 1209.4,2067.9 C1209.4,2067.9 1223.5,2062.0 1223.5,2062.0 C1223.5,2062.0 1237.7,2056.0 1237.7,2056.0 C1237.7,2056.0 1251.9,2049.8 1251.9,2049.8 C1251.9,2049.8 1266.0,2043.5 1266.0,2043.5 C1266.0,2043.5 1280.2,2037.0 1280.2,2037.0 C1280.2,2037.0 1294.3,2030.3 1294.3,2030.3 C1294.3,2030.3 1308.5,2023.4 1308.5,2023.4 C1308.5,2023.4 1322.6,2016.4 1322.6,2016.4 C1322.6,2016.4 1336.8,2009.1 1336.8,2009.1 C1336.8,2009.1 1351.0,2001.6 1351.0,2001.6 C1351.0,2001.6 1365.1,1993.8 1365.1,1993.8 C1365.1,1993.8 1379.3,1985.9 1379.3,1985.9 C1379.3,1985.9 1393.4,1977.6 1393.4,1977.6 C1393.4,1977.6 1407.6,1969.1 1407.6,1969.1 C1407.6,1969.1 1421.7,1960.4 1421.7,1960.4 C1421.7,1960.4 1435.9,1951.3 1435.9,1951.3 C1435.9,1951.3 1450.1,1941.9 1450.1,1941.9 C1450.1,1941.9 1464.2,1932.3 1464.2,1932.3 C1464.2,1932.3 1478.4,1922.3 1478.4,1922.3 C1478.4,1922.3 1492.5,1911.9 1492.5,1911.9 C1492.5,1911.9 1506.7,1901.3 1506.7,1901.3 C1506.7,1901.3 1520.8,1890.2 1520.8,1890.2 C1520.8,1890.2 1535.0,1878.9 1535.0,1878.9" fill="none" stroke="#2b34c8" stroke-width="6" stroke-linejoin="round" stroke-linecap="round"/>
<path d="M275.0,2420.7 C275.0,2420.7 289.2,2413.4 289.2,2413.4 C289.2,2413.4 303.3,2406.2 303.3,2406.2 C303.3,2406.2 317.5,2398.9 317.5,2398.9 C317.5,2398.9 331.6,2391.7 331.6,2391.7 C331.6,2391.7 345.8,2384.4 345.8,2384.4 C345.8,2384.4 359.9,2377.0 359.9,2377.0 C359.9,2377.0 374.1,2369.7 374.1,2369.7 C374.1,2369.7 388.3,2362.4 388.3,2362.4 C388.3,2362.4 402.4,2355.0 402.4,2355.0 C402.4,2355.0 416.6,2347.6 416.6,2347.6 C416.6,2347.6 430.7,2340.3 430.7,2340.3 C430.7,2340.3 444.9,2332.9 444.9,2332.9 C444.9,2332.9 459.0,2325.5 459.0,2325.5 C459.0,2325.5 473.2,2318.1 473.2,2318.1 C473.2,2318.1 487.4,2310.6 487.4,2310.6 C487.4,2310.6 501.5,2303.2 501.5,2303.2 C501.5,2303.2 515.7,2295.8 515.7,2295.8 C515.7,2295.8 529.8,2288.3 529.8,2288.3 C529.8,2288.3 544.0,2280.9 544.0,2280.9 C544.0,2280.9 558.1,2273.5 558.1,2273.5 C558.1,2273.5 572.3,2266.0 572.3,2266.0 C572.3,2266.0 586.5,2258.6 586.5,2258.6 C586.5,2258.6 600.6,2251.1 600.6,2251.1 C600.6,2251.1 614.8,2243.7 614.8,2243.7 C614.8,2243.7 628.9,2236.3 628.9,2236.3 C628.9,2236.3 643.1,2228.8 643.1,2228.8 C643.1,2228.8 657.2,2221.4 657.2,2221.4 C657.2,2221.4 671.4,2214.0 671.4,2214.0 C671.4,2214.0 685.6,2206.5 685.6,2206.5 C685.6,2206.5 699.7,2199.1 699.7,2199.1 C699.7,2199.1 713.9,2191.7 713.9,2191.7 C713.9,2191.7 728.0,2184.3 728.0,2184.3 C728.0,2184.3 742.2,2176.8 742.2,2176.8 C742.2,2176.8 756.3,2169.3 756.3,2169.3 C756.3,2169.3 770.5,2161.8 770.5,2161.8 C770.5,2161.8 784.7,2154.2 784.7,2154.2 C784.7,2154.2 798.8,2146.5 798.8,2146.5 C798.8,2146.5 813.0,2138.8 813.0,2138.8 C813.0,2138.8 827.1,2131.0 827.1,2131.0 C827.1,2131.0 841.3,2123.0 841.3,2123.0 C841.3,2123.0 855.4,2115.0 855.4,2115.0 C855.4,2115.0 869.6,2106.8 869.6,2106.8 C869.6,2106.8 883.8,2098.5 883.8,2098.5 C883.8,2098.5 897.9,2090.0 897.9,2090.0 C897.9,2090.0 912.1,2081.4 912.1,2081.4 C912.1,2081.4 926.2,2072.6 926.2,2072.6 C926.2,2072.6 940.4,2063.6 940.4,2063.6 C940.4,2063.6 954.6,2054.4 954.6,2054.4 C954.6,2054.4 968.7,2045.1 968.7,2045.1 C968.7,2045.1 982.9,2035.6 982.9,2035.6 C982.9,2035.6 997.0,2025.9 997.0,2025.9 C997.0,2025.9 1011.2,2016.0 1011.2,2016.0 C1011.2,2016.0 1025.3,2006.1 1025.3,2006.1 C1025.3,2006.1 1039.5,1996.0 1039.5,1996.0 C1039.5,1996.0 1053.7,1985.8 1053.7,1985.8 C1053.7,1985.8 1067.8,1975.4 1067.8,1975.4 C1067.8,1975.4 1082.0,1965.0 1082.0,1965.0 C1082.0,1965.0 1096.1,1954.5 1096.1,1954.5 C1096.1,1954.5 1110.3,1944.0 1110.3,1944.0 C1110.3,1944.0 1124.4,1933.4 1124.4,1933.4 C1124.4,1933.4 1138.6,1922.7 1138.6,1922.7 C1138.6,1922.7 1152.8,1912.0 1152.8,1912.0 C1152.8,1912.0 1166.9,1901.3 1166.9,1901.3 C1166.9,1901.3 1181.1,1890.6 1181.1,1890.6 C1181.1,1890.6 1195.2,1879.9 1195.2,1879.9 C1195.2,1879.9 1209.4,1869.2 1209.4,1869.2 C1209.4,1869.2 1223.5,1858.5 1223.5,1858.5 C1223.5,1858.5 1237.7,1847.7 1237.7,1847.7 C1237.7,1847.7 1251.9,1837.0 1251.9,1837.0 C1251.9,1837.0 1266.0,1826.1 1266.0,1826.1 C1266.0,1826.1 1280.2,1815.1 1280.2,1815.1 C1280.2,1815.1 1294.3,1804.0 1294.3,1804.0 C1294.3,1804.0 1308.5,1792.7 1308.5,1792.7 C1308.5,1792.7 1322.6,1781.2 1322.6,1781.2 C1322.6,1781.2 1336.8,1769.4 1336.8,1769.4 C1336.8,1769.4 1351.0,1757.4 1351.0,1757.4 C1351.0,1757.4 1365.1,1745.2 1365.1,1745.2 C1365.1,1745.2 1379.3,1732.6 1379.3,1732.6 C1379.3,1732.6 1393.4,1719.6 1393.4,1719.6 C1393.4,1719.6 1407.6,1706.3 1407.6,1706.3 C1407.6,1706.3 1421.7,1692.6 1421.7,1692.6 C1421.7,1692.6 1435.9,1678.4 1435.9,1678.4 C1435.9,1678.4 1450.1,1663.8 1450.1,1663.8 C1450.1,1663.8 1464.2,1648.7 1464.2,1648.7 C1464.2,1648.7 1478.4,1633.1 1478.4,1633.1 C1478.4,1633.1 1492.5,1616.9 1492.5,1616.9 C1492.5,1616.9 1506.7,1600.1 1506.7,1600.1 C1506.7,1600.1 1520.8,1582.6 1520.8,1582.6 C1520.8,1582.6 1535.0,1564.5 1535.0,1564.5" fill="none" stroke="#520b0e" stroke-width="6" stroke-linejoin="round" stroke-linecap="round"/>
<text transform="translate(1054.09,1520.30) scale(0.61389,0.55000)" font-size="100" fill="#1e1e1e" stroke="#1e1e1e" stroke-width="1.0">PHEMA@</text>
<text transform="translate(1331.95,1521.00) scale(0.54983,0.52250)" font-size="100" fill="#3a3a3a" stroke="#3a3a3a" stroke-width="0.3" font-style="italic" style="font-family:'Liberation Serif', serif">γ</text>
<text transform="translate(1354.76,1520.30) scale(0.60967,0.55000)" font-size="100" fill="#1e1e1e" stroke="#1e1e1e" stroke-width="1.0">-Fe</text>
<text transform="translate(1443.56,1536.40) scale(0.50618,0.40975)" font-size="100" fill="#1e1e1e" stroke="#1e1e1e" stroke-width="1.0">2</text>
<text transform="translate(1468.98,1520.30) scale(0.61494,0.55000)" font-size="100" fill="#1e1e1e" stroke="#1e1e1e" stroke-width="1.0">O</text>
<text transform="translate(1513.24,1536.40) scale(0.48487,0.40975)" font-size="100" fill="#1e1e1e" stroke="#1e1e1e" stroke-width="1.0">3</text>
<text transform="translate(1318.48,2080.20) scale(0.60230,0.56200)" font-size="100" fill="#1e1e1e" stroke="#1e1e1e" stroke-width="1.0">PHEMA</text>
<text transform="translate(1005.76,2361.70) scale(0.60523,0.55600)" font-size="100" fill="#1e1e1e" stroke="#1e1e1e" stroke-width="1.0">P(HEMA-DMAEMA)</text>
<text transform="translate(265.62,1533.30) scale(0.67327,0.65000)" font-size="100" font-weight="bold" fill="#111" stroke="#111" stroke-width="0">b</text>
<text transform="translate(630.00,2609.70) scale(0.60068,0.56500)" font-size="100" fill="#1e1e1e" stroke="#1e1e1e" stroke-width="1.0">Compressive strain (%)</text>
<text transform="translate(77.10,2238.61) rotate(-90) scale(0.54151,0.60000)" font-size="100" fill="#1e1e1e" stroke="#1e1e1e" stroke-width="1.0">Compressive stress (kPa)</text>
<line x1="218.00" y1="2725.00" x2="1652.00" y2="2725.00" stroke="#5e5e5e" stroke-width="4"/>
<line x1="220.00" y1="2723.00" x2="220.00" y2="3892.50" stroke="#404040" stroke-width="4"/>
<line x1="1650.00" y1="2723.00" x2="1650.00" y2="3892.50" stroke="#404040" stroke-width="4"/>
<line x1="218.00" y1="3890.50" x2="1652.00" y2="3890.50" stroke="#5e5e5e" stroke-width="4"/>
<line x1="929.00" y1="2808.00" x2="929.00" y2="3858.50" stroke="#333" stroke-width="3.5"/>
<line x1="278.50" y1="3331.50" x2="1581.50" y2="3331.50" stroke="#666" stroke-width="4.5"/>
<line x1="929.00" y1="2883.60" x2="949.00" y2="2883.60" stroke="#333" stroke-width="3.5"/>
<text transform="translate(883.34,2898.16) scale(0.44000,0.43662)" font-size="100" fill="#2a2a2a" stroke="#2a2a2a" stroke-width="1.0">3</text>
<line x1="929.00" y1="3032.90" x2="949.00" y2="3032.90" stroke="#333" stroke-width="3.5"/>
<text transform="translate(883.78,3047.90) scale(0.44000,0.44286)" font-size="100" fill="#2a2a2a" stroke="#2a2a2a" stroke-width="1.0">2</text>
<line x1="929.00" y1="3182.20" x2="949.00" y2="3182.20" stroke="#333" stroke-width="3.5"/>
<text transform="translate(883.56,3197.20) scale(0.44000,0.44928)" font-size="100" fill="#2a2a2a" stroke="#2a2a2a" stroke-width="1.0">1</text>
<line x1="929.00" y1="3331.50" x2="949.00" y2="3331.50" stroke="#333" stroke-width="3.5"/>
<text transform="translate(883.12,3346.06) scale(0.44000,0.43662)" font-size="100" fill="#2a2a2a" stroke="#2a2a2a" stroke-width="1.0">0</text>
<line x1="929.00" y1="3480.80" x2="949.00" y2="3480.80" stroke="#333" stroke-width="3.5"/>
<text transform="translate(868.82,3495.80) scale(0.44000,0.44928)" font-size="100" fill="#2a2a2a" stroke="#2a2a2a" stroke-width="1.0">-1</text>
<line x1="929.00" y1="3630.10" x2="949.00" y2="3630.10" stroke="#333" stroke-width="3.5"/>
<text transform="translate(869.04,3645.10) scale(0.44000,0.44286)" font-size="100" fill="#2a2a2a" stroke="#2a2a2a" stroke-width="1.0">-2</text>
<line x1="929.00" y1="3779.40" x2="949.00" y2="3779.40" stroke="#333" stroke-width="3.5"/>
<text transform="translate(868.60,3793.96) scale(0.44000,0.43662)" font-size="100" fill="#2a2a2a" stroke="#2a2a2a" stroke-width="1.0">-3</text>
<line x1="280.16" y1="3331.50" x2="280.16" y2="3313.00" stroke="#444" stroke-width="3.5"/>
<text transform="translate(232.93,3387.56) scale(0.45000,0.43662)" font-size="100" fill="#2a2a2a" stroke="#2a2a2a" stroke-width="1.0">-800</text>
<line x1="442.62" y1="3331.50" x2="442.62" y2="3313.00" stroke="#444" stroke-width="3.5"/>
<text transform="translate(395.40,3387.56) scale(0.45000,0.43662)" font-size="100" fill="#2a2a2a" stroke="#2a2a2a" stroke-width="1.0">-600</text>
<line x1="605.08" y1="3331.50" x2="605.08" y2="3313.00" stroke="#444" stroke-width="3.5"/>
<text transform="translate(557.85,3387.56) scale(0.45000,0.43662)" font-size="100" fill="#2a2a2a" stroke="#2a2a2a" stroke-width="1.0">-400</text>
<line x1="767.54" y1="3331.50" x2="767.54" y2="3313.00" stroke="#444" stroke-width="3.5"/>
<text transform="translate(720.31,3387.56) scale(0.45000,0.43662)" font-size="100" fill="#2a2a2a" stroke="#2a2a2a" stroke-width="1.0">-200</text>
<text transform="translate(918.40,3387.56) scale(0.45000,0.43662)" font-size="100" fill="#2a2a2a" stroke="#2a2a2a" stroke-width="1.0">0</text>
<line x1="1092.46" y1="3331.50" x2="1092.46" y2="3313.00" stroke="#444" stroke-width="3.5"/>
<text transform="translate(1055.66,3387.56) scale(0.45000,0.43662)" font-size="100" fill="#2a2a2a" stroke="#2a2a2a" stroke-width="1.0">200</text>
<line x1="1254.92" y1="3331.50" x2="1254.92" y2="3313.00" stroke="#444" stroke-width="3.5"/>
<text transform="translate(1218.80,3387.56) scale(0.45000,0.43662)" font-size="100" fill="#2a2a2a" stroke="#2a2a2a" stroke-width="1.0">400</text>
<line x1="1417.38" y1="3331.50" x2="1417.38" y2="3313.00" stroke="#444" stroke-width="3.5"/>
<text transform="translate(1380.58,3387.56) scale(0.45000,0.43662)" font-size="100" fill="#2a2a2a" stroke="#2a2a2a" stroke-width="1.0">600</text>
<line x1="1579.84" y1="3331.50" x2="1579.84" y2="3313.00" stroke="#444" stroke-width="3.5"/>
<text transform="translate(1543.15,3387.56) scale(0.45000,0.43662)" font-size="100" fill="#2a2a2a" stroke="#2a2a2a" stroke-width="1.0">800</text>
<path d="M280.2,3692.7 C280.2,3692.7 341.9,3688.3 341.9,3688.3 C341.9,3688.3 397.8,3684.0 397.8,3684.0 C397.8,3684.0 448.4,3679.7 448.4,3679.7 C448.4,3679.7 494.1,3675.5 494.1,3675.5 C494.1,3675.5 535.6,3671.2 535.6,3671.2 C535.6,3671.2 573.1,3667.0 573.1,3667.0 C573.1,3667.0 607.0,3662.7 607.0,3662.7 C607.0,3662.7 637.7,3658.4 637.7,3658.4 C637.7,3658.4 665.5,3654.0 665.5,3654.0 C665.5,3654.0 690.6,3649.5 690.6,3649.5 C690.6,3649.5 713.3,3645.0 713.3,3645.0 C713.3,3645.0 733.9,3640.2 733.9,3640.2 C733.9,3640.2 752.6,3635.4 752.6,3635.4 C752.6,3635.4 769.4,3630.3 769.4,3630.3 C769.4,3630.3 784.7,3625.1 784.7,3625.1 C784.7,3625.1 798.5,3619.7 798.5,3619.7 C798.5,3619.7 811.0,3614.0 811.0,3614.0 C811.0,3614.0 822.3,3608.1 822.3,3608.1 C822.3,3608.1 832.5,3601.9 832.5,3601.9 C832.5,3601.9 841.8,3595.4 841.8,3595.4 C841.8,3595.4 850.2,3588.7 850.2,3588.7 C850.2,3588.7 857.8,3581.6 857.8,3581.6 C857.8,3581.6 864.6,3574.2 864.6,3574.2 C864.6,3574.2 870.8,3566.5 870.8,3566.5 C870.8,3566.5 876.5,3558.6 876.5,3558.6 C876.5,3558.6 881.6,3550.5 881.6,3550.5 C881.6,3550.5 886.2,3542.3 886.2,3542.3 C886.2,3542.3 890.3,3534.3 890.3,3534.3 C890.3,3534.3 894.1,3526.4 894.1,3526.4 C894.1,3526.4 897.5,3518.8 897.5,3518.8 C897.5,3518.8 900.6,3511.6 900.6,3511.6 C900.6,3511.6 903.4,3504.5 903.4,3504.5 C903.4,3504.5 905.9,3497.7 905.9,3497.7 C905.9,3497.7 908.2,3491.0 908.2,3491.0 C908.2,3491.0 910.3,3484.5 910.3,3484.5 C910.3,3484.5 912.2,3478.0 912.2,3478.0 C912.2,3478.0 913.8,3471.6 913.8,3471.6 C913.8,3471.6 915.4,3465.2 915.4,3465.2 C915.4,3465.2 916.8,3458.8 916.8,3458.8 C916.8,3458.8 918.0,3452.5 918.0,3452.5 C918.0,3452.5 919.2,3446.2 919.2,3446.2 C919.2,3446.2 920.2,3439.9 920.2,3439.9 C920.2,3439.9 921.1,3433.6 921.1,3433.6 C921.1,3433.6 922.0,3427.5 922.0,3427.5 C922.0,3427.5 922.7,3421.4 922.7,3421.4 C922.7,3421.4 923.4,3415.4 923.4,3415.4 C923.4,3415.4 924.0,3409.6 924.0,3409.6 C924.0,3409.6 924.6,3404.0 924.6,3404.0 C924.6,3404.0 925.1,3398.5 925.1,3398.5 C925.1,3398.5 925.6,3393.3 925.6,3393.3 C925.6,3393.3 926.0,3388.4 926.0,3388.4 C926.0,3388.4 926.4,3383.7 926.4,3383.7 C926.4,3383.7 926.7,3379.3 926.7,3379.3 C926.7,3379.3 927.0,3375.1 927.0,3375.1 C927.0,3375.1 927.3,3371.3 927.3,3371.3 C927.3,3371.3 927.6,3367.7 927.6,3367.7 C927.6,3367.7 927.8,3364.4 927.8,3364.4 C927.8,3364.4 928.0,3361.4 928.0,3361.4 C928.0,3361.4 928.2,3358.6 928.2,3358.6 C928.2,3358.6 928.4,3356.0 928.4,3356.0 C928.4,3356.0 928.5,3353.7 928.5,3353.7 C928.5,3353.7 928.7,3351.6 928.7,3351.6 C928.7,3351.6 928.8,3349.7 928.8,3349.7 C928.8,3349.7 928.9,3347.9 928.9,3347.9 C928.9,3347.9 929.0,3346.4 929.0,3346.4 C929.0,3346.4 929.1,3344.9 929.1,3344.9 C929.1,3344.9 929.2,3343.6 929.2,3343.6 C929.2,3343.6 929.3,3342.4 929.3,3342.4 C929.3,3342.4 929.3,3341.3 929.3,3341.3 C929.3,3341.3 929.4,3340.4 929.4,3340.4 C929.4,3340.4 929.5,3339.5 929.5,3339.5 C929.5,3339.5 929.5,3338.7 929.5,3338.7 C929.5,3338.7 929.6,3338.0 929.6,3338.0 C929.6,3338.0 929.6,3337.3 929.6,3337.3 C929.6,3337.3 929.6,3336.7 929.6,3336.7 C929.6,3336.7 929.7,3336.2 929.7,3336.2 C929.7,3336.2 929.7,3335.7 929.7,3335.7 C929.7,3335.7 929.7,3335.3 929.7,3335.3 C929.7,3335.3 929.8,3334.9 929.8,3334.9 C929.8,3334.9 930.0,3331.1 930.0,3331.1 C930.0,3331.1 930.2,3327.3 930.2,3327.3 C930.2,3327.3 930.3,3326.9 930.3,3326.9 C930.3,3326.9 930.3,3326.4 930.3,3326.4 C930.3,3326.4 930.3,3325.9 930.3,3325.9 C930.3,3325.9 930.4,3325.4 930.4,3325.4 C930.4,3325.4 930.4,3324.8 930.4,3324.8 C930.4,3324.8 930.4,3324.1 930.4,3324.1 C930.4,3324.1 930.5,3323.4 930.5,3323.4 C930.5,3323.4 930.5,3322.6 930.5,3322.6 C930.5,3322.6 930.6,3321.7 930.6,3321.7 C930.6,3321.7 930.7,3320.8 930.7,3320.8 C930.7,3320.8 930.7,3319.7 930.7,3319.7 C930.7,3319.7 930.8,3318.5 930.8,3318.5 C930.8,3318.5 930.9,3317.2 930.9,3317.2 C930.9,3317.2 931.0,3315.8 931.0,3315.8 C931.0,3315.8 931.1,3314.2 931.1,3314.2 C931.1,3314.2 931.2,3312.4 931.2,3312.4 C931.2,3312.4 931.3,3310.5 931.3,3310.5 C931.3,3310.5 931.5,3308.4 931.5,3308.4 C931.5,3308.4 931.6,3306.1 931.6,3306.1 C931.6,3306.1 931.8,3303.6 931.8,3303.6 C931.8,3303.6 932.0,3300.8 932.0,3300.8 C932.0,3300.8 932.2,3297.8 932.2,3297.8 C932.2,3297.8 932.4,3294.5 932.4,3294.5 C932.4,3294.5 932.7,3291.0 932.7,3291.0 C932.7,3291.0 933.0,3287.2 933.0,3287.2 C933.0,3287.2 933.3,3283.1 933.3,3283.1 C933.3,3283.1 933.6,3278.7 933.6,3278.7 C933.6,3278.7 934.0,3274.1 934.0,3274.1 C934.0,3274.1 934.4,3269.2 934.4,3269.2 C934.4,3269.2 934.9,3264.2 934.9,3264.2 C934.9,3264.2 935.4,3259.0 935.4,3259.0 C935.4,3259.0 936.0,3253.8 936.0,3253.8 C936.0,3253.8 936.6,3248.6 936.6,3248.6 C936.6,3248.6 937.3,3243.5 937.3,3243.5 C937.3,3243.5 938.0,3238.4 938.0,3238.4 C938.0,3238.4 938.9,3233.3 938.9,3233.3 C938.9,3233.3 939.8,3228.2 939.8,3228.2 C939.8,3228.2 940.8,3223.0 940.8,3223.0 C940.8,3223.0 942.0,3217.7 942.0,3217.7 C942.0,3217.7 943.2,3212.1 943.2,3212.1 C943.2,3212.1 944.6,3206.1 944.6,3206.1 C944.6,3206.1 946.2,3199.7 946.2,3199.7 C946.2,3199.7 947.8,3193.1 947.8,3193.1 C947.8,3193.1 949.7,3186.1 949.7,3186.1 C949.7,3186.1 951.8,3178.9 951.8,3178.9 C951.8,3178.9 954.1,3171.4 954.1,3171.4 C954.1,3171.4 956.6,3163.8 956.6,3163.8 C956.6,3163.8 959.4,3155.9 959.4,3155.9 C959.4,3155.9 962.5,3148.0 962.5,3148.0 C962.5,3148.0 965.9,3140.0 965.9,3140.0 C965.9,3140.0 969.7,3131.9 969.7,3131.9 C969.7,3131.9 973.8,3123.9 973.8,3123.9 C973.8,3123.9 978.4,3115.8 978.4,3115.8 C978.4,3115.8 983.5,3107.8 983.5,3107.8 C983.5,3107.8 989.2,3099.8 989.2,3099.8 C989.2,3099.8 995.4,3092.0 995.4,3092.0 C995.4,3092.0 1002.2,3084.3 1002.2,3084.3 C1002.2,3084.3 1009.8,3076.8 1009.8,3076.8 C1009.8,3076.8 1018.2,3069.5 1018.2,3069.5 C1018.2,3069.5 1027.5,3062.4 1027.5,3062.4 C1027.5,3062.4 1037.7,3055.5 1037.7,3055.5 C1037.7,3055.5 1049.0,3049.0 1049.0,3049.0 C1049.0,3049.0 1061.5,3042.7 1061.5,3042.7 C1061.5,3042.7 1075.3,3036.8 1075.3,3036.8 C1075.3,3036.8 1090.6,3031.1 1090.6,3031.1 C1090.6,3031.1 1107.4,3025.6 1107.4,3025.6 C1107.4,3025.6 1126.1,3020.5 1126.1,3020.5 C1126.1,3020.5 1146.7,3015.5 1146.7,3015.5 C1146.7,3015.5 1169.4,3010.8 1169.4,3010.8 C1169.4,3010.8 1194.5,3006.2 1194.5,3006.2 C1194.5,3006.2 1222.3,3001.9 1222.3,3001.9 C1222.3,3001.9 1253.0,2997.8 1253.0,2997.8 C1253.0,2997.8 1286.9,2993.8 1286.9,2993.8 C1286.9,2993.8 1324.4,2990.0 1324.4,2990.0 C1324.4,2990.0 1365.9,2986.3 1365.9,2986.3 C1365.9,2986.3 1411.6,2982.8 1411.6,2982.8 C1411.6,2982.8 1462.2,2979.3 1462.2,2979.3 C1462.2,2979.3 1518.1,2976.0 1518.1,2976.0 C1518.1,2976.0 1579.8,2972.8 1579.8,2972.8" fill="none" stroke="#353535" stroke-width="6" stroke-linejoin="round" stroke-linecap="round"/>
<path d="M280.2,3647.4 C280.2,3647.4 341.9,3647.8 341.9,3647.8 C341.9,3647.8 397.8,3648.0 397.8,3648.0 C397.8,3648.0 448.4,3647.8 448.4,3647.8 C448.4,3647.8 494.1,3647.4 494.1,3647.4 C494.1,3647.4 535.6,3646.6 535.6,3646.6 C535.6,3646.6 573.1,3645.6 573.1,3645.6 C573.1,3645.6 607.0,3644.2 607.0,3644.2 C607.0,3644.2 637.7,3642.5 637.7,3642.5 C637.7,3642.5 665.5,3640.5 665.5,3640.5 C665.5,3640.5 690.6,3638.1 690.6,3638.1 C690.6,3638.1 713.3,3635.3 713.3,3635.3 C713.3,3635.3 733.9,3632.2 733.9,3632.2 C733.9,3632.2 752.6,3628.8 752.6,3628.8 C752.6,3628.8 769.4,3624.9 769.4,3624.9 C769.4,3624.9 784.7,3620.7 784.7,3620.7 C784.7,3620.7 798.5,3616.1 798.5,3616.1 C798.5,3616.1 811.0,3611.1 811.0,3611.1 C811.0,3611.1 822.3,3605.7 822.3,3605.7 C822.3,3605.7 832.5,3599.8 832.5,3599.8 C832.5,3599.8 841.8,3593.6 841.8,3593.6 C841.8,3593.6 850.2,3587.0 850.2,3587.0 C850.2,3587.0 857.8,3580.1 857.8,3580.1 C857.8,3580.1 864.6,3573.0 864.6,3573.0 C864.6,3573.0 870.8,3565.7 870.8,3565.7 C870.8,3565.7 876.5,3558.2 876.5,3558.2 C876.5,3558.2 881.6,3550.3 881.6,3550.3 C881.6,3550.3 886.2,3542.3 886.2,3542.3 C886.2,3542.3 890.3,3534.3 890.3,3534.3 C890.3,3534.3 894.1,3526.4 894.1,3526.4 C894.1,3526.4 897.5,3518.8 897.5,3518.8 C897.5,3518.8 900.6,3511.6 900.6,3511.6 C900.6,3511.6 903.4,3504.5 903.4,3504.5 C903.4,3504.5 905.9,3497.7 905.9,3497.7 C905.9,3497.7 908.2,3491.0 908.2,3491.0 C908.2,3491.0 910.3,3484.5 910.3,3484.5 C910.3,3484.5 912.2,3478.0 912.2,3478.0 C912.2,3478.0 913.8,3471.6 913.8,3471.6 C913.8,3471.6 915.4,3465.2 915.4,3465.2 C915.4,3465.2 916.8,3458.8 916.8,3458.8 C916.8,3458.8 918.0,3452.5 918.0,3452.5 C918.0,3452.5 919.2,3446.2 919.2,3446.2 C919.2,3446.2 920.2,3439.9 920.2,3439.9 C920.2,3439.9 921.1,3433.6 921.1,3433.6 C921.1,3433.6 922.0,3427.5 922.0,3427.5 C922.0,3427.5 922.7,3421.4 922.7,3421.4 C922.7,3421.4 923.4,3415.4 923.4,3415.4 C923.4,3415.4 924.0,3409.6 924.0,3409.6 C924.0,3409.6 924.6,3404.0 924.6,3404.0 C924.6,3404.0 925.1,3398.5 925.1,3398.5 C925.1,3398.5 925.6,3393.3 925.6,3393.3 C925.6,3393.3 926.0,3388.4 926.0,3388.4 C926.0,3388.4 926.4,3383.7 926.4,3383.7 C926.4,3383.7 926.7,3379.3 926.7,3379.3 C926.7,3379.3 927.0,3375.1 927.0,3375.1 C927.0,3375.1 927.3,3371.3 927.3,3371.3 C927.3,3371.3 927.6,3367.7 927.6,3367.7 C927.6,3367.7 927.8,3364.4 927.8,3364.4 C927.8,3364.4 928.0,3361.4 928.0,3361.4 C928.0,3361.4 928.2,3358.6 928.2,3358.6 C928.2,3358.6 928.4,3356.0 928.4,3356.0 C928.4,3356.0 928.5,3353.7 928.5,3353.7 C928.5,3353.7 928.7,3351.6 928.7,3351.6 C928.7,3351.6 928.8,3349.7 928.8,3349.7 C928.8,3349.7 928.9,3347.9 928.9,3347.9 C928.9,3347.9 929.0,3346.4 929.0,3346.4 C929.0,3346.4 929.1,3344.9 929.1,3344.9 C929.1,3344.9 929.2,3343.6 929.2,3343.6 C929.2,3343.6 929.3,3342.4 929.3,3342.4 C929.3,3342.4 929.3,3341.3 929.3,3341.3 C929.3,3341.3 929.4,3340.4 929.4,3340.4 C929.4,3340.4 929.5,3339.5 929.5,3339.5 C929.5,3339.5 929.5,3338.7 929.5,3338.7 C929.5,3338.7 929.6,3338.0 929.6,3338.0 C929.6,3338.0 929.6,3337.3 929.6,3337.3 C929.6,3337.3 929.6,3336.7 929.6,3336.7 C929.6,3336.7 929.7,3336.2 929.7,3336.2 C929.7,3336.2 929.7,3335.7 929.7,3335.7 C929.7,3335.7 929.7,3335.3 929.7,3335.3 C929.7,3335.3 929.8,3334.9 929.8,3334.9 C929.8,3334.9 930.0,3331.1 930.0,3331.1 C930.0,3331.1 930.2,3327.3 930.2,3327.3 C930.2,3327.3 930.3,3326.9 930.3,3326.9 C930.3,3326.9 930.3,3326.4 930.3,3326.4 C930.3,3326.4 930.3,3325.9 930.3,3325.9 C930.3,3325.9 930.4,3325.4 930.4,3325.4 C930.4,3325.4 930.4,3324.8 930.4,3324.8 C930.4,3324.8 930.4,3324.1 930.4,3324.1 C930.4,3324.1 930.5,3323.4 930.5,3323.4 C930.5,3323.4 930.5,3322.6 930.5,3322.6 C930.5,3322.6 930.6,3321.7 930.6,3321.7 C930.6,3321.7 930.7,3320.8 930.7,3320.8 C930.7,3320.8 930.7,3319.7 930.7,3319.7 C930.7,3319.7 930.8,3318.5 930.8,3318.5 C930.8,3318.5 930.9,3317.2 930.9,3317.2 C930.9,3317.2 931.0,3315.8 931.0,3315.8 C931.0,3315.8 931.1,3314.2 931.1,3314.2 C931.1,3314.2 931.2,3312.4 931.2,3312.4 C931.2,3312.4 931.3,3310.5 931.3,3310.5 C931.3,3310.5 931.5,3308.4 931.5,3308.4 C931.5,3308.4 931.6,3306.1 931.6,3306.1 C931.6,3306.1 931.8,3303.6 931.8,3303.6 C931.8,3303.6 932.0,3300.8 932.0,3300.8 C932.0,3300.8 932.2,3297.8 932.2,3297.8 C932.2,3297.8 932.4,3294.5 932.4,3294.5 C932.4,3294.5 932.7,3291.0 932.7,3291.0 C932.7,3291.0 933.0,3287.2 933.0,3287.2 C933.0,3287.2 933.3,3283.1 933.3,3283.1 C933.3,3283.1 933.6,3278.7 933.6,3278.7 C933.6,3278.7 934.0,3274.1 934.0,3274.1 C934.0,3274.1 934.4,3269.2 934.4,3269.2 C934.4,3269.2 934.9,3264.2 934.9,3264.2 C934.9,3264.2 935.4,3259.0 935.4,3259.0 C935.4,3259.0 936.0,3253.8 936.0,3253.8 C936.0,3253.8 936.6,3248.6 936.6,3248.6 C936.6,3248.6 937.3,3243.5 937.3,3243.5 C937.3,3243.5 938.0,3238.4 938.0,3238.4 C938.0,3238.4 938.9,3233.3 938.9,3233.3 C938.9,3233.3 939.8,3228.2 939.8,3228.2 C939.8,3228.2 940.8,3223.0 940.8,3223.0 C940.8,3223.0 942.0,3217.7 942.0,3217.7 C942.0,3217.7 943.2,3212.1 943.2,3212.1 C943.2,3212.1 944.6,3206.1 944.6,3206.1 C944.6,3206.1 946.2,3199.7 946.2,3199.7 C946.2,3199.7 947.8,3193.1 947.8,3193.1 C947.8,3193.1 949.7,3186.1 949.7,3186.1 C949.7,3186.1 951.8,3178.9 951.8,3178.9 C951.8,3178.9 954.1,3171.4 954.1,3171.4 C954.1,3171.4 956.6,3163.8 956.6,3163.8 C956.6,3163.8 959.4,3155.9 959.4,3155.9 C959.4,3155.9 962.5,3148.0 962.5,3148.0 C962.5,3148.0 965.9,3140.0 965.9,3140.0 C965.9,3140.0 969.7,3131.9 969.7,3131.9 C969.7,3131.9 973.8,3123.7 973.8,3123.7 C973.8,3123.7 978.4,3115.5 978.4,3115.5 C978.4,3115.5 983.5,3107.4 983.5,3107.4 C983.5,3107.4 989.2,3099.6 989.2,3099.6 C989.2,3099.6 995.4,3092.2 995.4,3092.2 C995.4,3092.2 1002.2,3085.5 1002.2,3085.5 C1002.2,3085.5 1009.8,3079.4 1009.8,3079.4 C1009.8,3079.4 1018.2,3073.5 1018.2,3073.5 C1018.2,3073.5 1027.5,3067.9 1027.5,3067.9 C1027.5,3067.9 1037.7,3062.6 1037.7,3062.6 C1037.7,3062.6 1049.0,3057.5 1049.0,3057.5 C1049.0,3057.5 1061.5,3052.7 1061.5,3052.7 C1061.5,3052.7 1075.3,3048.1 1075.3,3048.1 C1075.3,3048.1 1090.6,3043.8 1090.6,3043.8 C1090.6,3043.8 1107.4,3039.8 1107.4,3039.8 C1107.4,3039.8 1126.1,3036.1 1126.1,3036.1 C1126.1,3036.1 1146.7,3032.7 1146.7,3032.7 C1146.7,3032.7 1169.4,3029.7 1169.4,3029.7 C1169.4,3029.7 1194.5,3027.1 1194.5,3027.1 C1194.5,3027.1 1222.3,3024.8 1222.3,3024.8 C1222.3,3024.8 1253.0,3023.0 1253.0,3023.0 C1253.0,3023.0 1286.9,3021.6 1286.9,3021.6 C1286.9,3021.6 1324.4,3020.7 1324.4,3020.7 C1324.4,3020.7 1365.9,3020.3 1365.9,3020.3 C1365.9,3020.3 1411.6,3020.3 1411.6,3020.3 C1411.6,3020.3 1462.2,3020.9 1462.2,3020.9 C1462.2,3020.9 1518.1,3022.0 1518.1,3022.0 C1518.1,3022.0 1579.8,3023.7 1579.8,3023.7" fill="none" stroke="#e03545" stroke-width="6" stroke-linejoin="round" stroke-linecap="round"/>
<rect x="1016.6" y="3702.5" width="536" height="141" fill="#fff" stroke="#8a8a8a" stroke-width="2.5"/>
<line x1="1021.60" y1="3738.30" x2="1149.00" y2="3738.30" stroke="#333" stroke-width="6.5"/>
<line x1="1021.60" y1="3806.30" x2="1149.00" y2="3806.30" stroke="#e03545" stroke-width="6.5"/>
<text transform="translate(1161.95,3757.60) scale(0.53143,0.57000)" font-size="100" fill="#1e1e1e" stroke="#1e1e1e" stroke-width="1.0">Raw</text>
<text transform="translate(1163.75,3822.00) scale(0.54489,0.55000)" font-size="100" fill="#1e1e1e" stroke="#1e1e1e" stroke-width="1.0">Slope corrected</text>
<text transform="translate(261.28,2810.80) scale(0.65567,0.65000)" font-size="100" font-weight="bold" fill="#111" stroke="#111" stroke-width="0">c</text>
<text transform="translate(1056.58,3481.30) scale(0.55308,0.56000)" font-size="100" fill="#1e1e1e" stroke="#1e1e1e" stroke-width="1.0">Magnetic field (kA/m)</text>
<text transform="translate(832.80,3302.13) rotate(-90) scale(0.54155,0.56000)" font-size="100" fill="#222" stroke="#222" stroke-width="1.0">Magnetization (Am</text>
<text transform="translate(810.00,2850.65) rotate(-90) scale(0.32967,0.38000)" font-size="100" fill="#222" stroke="#222" stroke-width="1.0">2</text>
<text transform="translate(832.80,2832.00) rotate(-90) scale(0.54642,0.56000)" font-size="100" fill="#222" stroke="#222" stroke-width="1.0">/kg)</text>
</g>
</svg>
</body></html>
